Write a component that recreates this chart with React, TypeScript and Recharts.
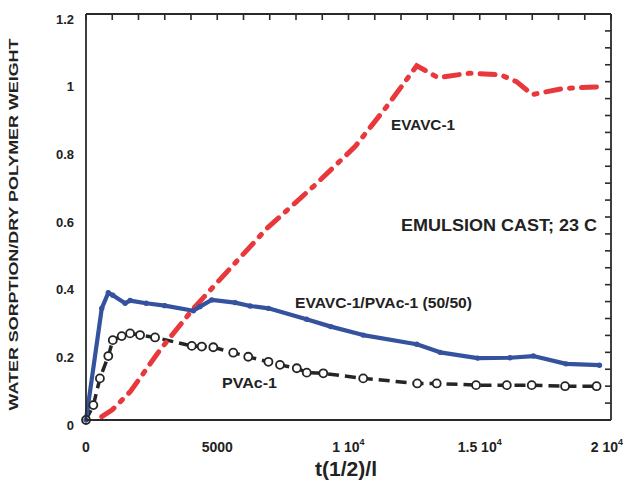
import React from "react";
import { LineChart, Line, XAxis, YAxis } from "recharts";

// ---- data ----
const evavcX = [600, 1000, 1700, 2800, 4100, 5100, 6900, 8660, 10250, 11450, 12600, 13000, 13400, 14600, 15800, 16400, 17000, 18200, 19600];
const evavcY = [0.01, 0.03, 0.085, 0.205, 0.33, 0.415, 0.567, 0.69, 0.808, 0.926, 1.047, 1.03, 1.012, 1.025, 1.02, 1.0, 0.962, 0.98, 0.985];

const blendX = [0, 600, 850, 1020, 1490, 1680, 2290, 3000, 4090, 4340, 4790, 5680, 6250, 6950, 8400, 9330, 10560, 12600, 13490, 14920, 16150, 17040, 18290, 19560];
const blendY = [0, 0.33, 0.376, 0.369, 0.345, 0.353, 0.345, 0.338, 0.323, 0.335, 0.355, 0.347, 0.337, 0.33, 0.298, 0.276, 0.251, 0.224, 0.2, 0.183, 0.184, 0.189, 0.166, 0.162];

const pvacX = [0, 280, 530, 850, 1020, 1360, 1680, 2060, 2630, 4030, 4410, 4850, 5610, 6180, 6950, 7390, 8030, 8410, 9040, 10560, 12620, 13360, 14860, 16030, 16980, 18250, 19450];
const pvacY = [0, 0.044, 0.123, 0.189, 0.236, 0.248, 0.256, 0.251, 0.244, 0.219, 0.217, 0.215, 0.199, 0.187, 0.172, 0.163, 0.153, 0.14, 0.138, 0.123, 0.108, 0.108, 0.103, 0.103, 0.103, 0.1, 0.1];

const xTicks = [0, 1000, 2000, 3000, 4000, 5000, 6000, 7000, 8000, 9000, 10000, 11000, 12000, 13000, 14000, 15000, 16000, 17000, 18000, 19000, 20000];
const xMajorTicks = [0, 5000, 10000, 15000, 20000];
const xMajorLabels = ["0", "5000", "1 10", "1.5 10", "2 10"];
const xMajorExps = ["", "", "4", "4", "4"];

const yTicks = [0, 0.05, 0.1, 0.15, 0.2, 0.25, 0.3, 0.35, 0.4, 0.45, 0.5, 0.55, 0.6, 0.65, 0.7, 0.75, 0.8, 0.85, 0.9, 0.95, 1, 1.05, 1.1, 1.15, 1.2];
const yMajorTicks = [0, 0.2, 0.4, 0.6, 0.8, 1, 1.2];
const yMajorLabels = ["0", "0.2", "0.4", "0.6", "0.8", "1", "1.2"];

const toPoints = (xs: number[], ys: number[]) => xs.map((x, i) => ({ x, y: ys[i] }));
const evavcData = toPoints(evavcX, evavcY);
const blendData = toPoints(blendX, blendY);
const pvacData = toPoints(pvacX, pvacY);

// ---- layout ----
const W = 631;
const H = 489;
const MARGIN = { top: 13, right: 19, left: 0, bottom: 39 };
const FONT = "'Liberation Sans', Arial, Helvetica, sans-serif";
const AXIS = "#2a2a2a";
const RED = "#e8383c";
const BLUE = "#35529e";
const BLACK = "#252525";
const TICK_W = 1.6;

const mkTickLine = (dir: string) => (props: any) => {
  const { x, y } = props;
  const d: any = { b: [0, -6], t: [0, 6], l: [6, 0], r: [-6, 0] }[dir];
  return <line x1={x} y1={y} x2={x + d[0]} y2={y + d[1]} stroke={AXIS} strokeWidth={TICK_W} />;
};
const BottomLine = mkTickLine("b");
const TopLine = mkTickLine("t");
const LeftLine = mkTickLine("l");
const RightLine = mkTickLine("r");

const BottomLabel = (props: any) => {
  const { x, y, payload } = props;
  const idx = xMajorTicks.indexOf(payload.value);
  if (idx < 0) return <g />;
  const dx = payload.value === 20000 ? -4 : 0;
  return (
    <text x={x + dx} y={y + 32} textAnchor="middle" fontFamily={FONT} fontWeight="bold" fontSize={14} fill="#222">
      <tspan>{xMajorLabels[idx]}</tspan>
      {xMajorExps[idx] ? <tspan dy={-7} fontSize={9}>{xMajorExps[idx]}</tspan> : null}
    </text>
  );
};

const LeftLabel = (props: any) => {
  const { x, y, payload } = props;
  const idx = yMajorTicks.findIndex((v) => Math.abs(v - payload.value) < 1e-6);
  if (idx < 0) return <g />;
  return (
    <text x={x - 12} y={y + 9.5} textAnchor="end" fontFamily={FONT} fontWeight="bold" fontSize={13} fill="#222">
      {yMajorLabels[idx]}
    </text>
  );
};

const txt = { fontFamily: FONT, fontWeight: "bold" as const, fill: "#222" };
const axisLineStyle = { stroke: AXIS, strokeWidth: 1.8 };

// mode "labels": axes paint only tick labels; mode "frame": axes paint frame + tick marks
function axes(mode: "labels" | "frame") {
  const f = mode === "frame";
  return [
    <XAxis key="xb" xAxisId="b" type="number" dataKey="x" domain={[0, 20000]} ticks={xTicks} interval={0} height={30} tickSize={0} tickMargin={0} axisLine={f ? axisLineStyle : false} tickLine={false} tick={f ? <BottomLine /> : <BottomLabel />} />,
    <XAxis key="xt" xAxisId="t" orientation="top" type="number" dataKey="x" domain={[0, 20000]} ticks={xTicks} interval={0} height={1} tickSize={0} tickMargin={0} axisLine={f ? axisLineStyle : false} tickLine={false} tick={f ? <TopLine /> : false} />,
    <YAxis key="yl" yAxisId="l" type="number" domain={[0, 1.2]} ticks={yTicks} interval={0} width={86} tickSize={0} tickMargin={0} axisLine={f ? axisLineStyle : false} tickLine={false} tick={f ? <LeftLine /> : <LeftLabel />} />,
    <YAxis key="yr" yAxisId="r" orientation="right" type="number" domain={[0, 1.2]} ticks={yTicks} interval={0} width={1} tickSize={0} tickMargin={0} axisLine={f ? axisLineStyle : false} tickLine={false} tick={f ? <RightLine /> : false} />,
  ];
}

export default function App() {
  return (
    <div style={{ position: "relative", width: W, height: H, margin: -8 }}>
      {/* data layer with tick labels */}
      <div style={{ position: "absolute", left: 0, top: 0 }}>
        <LineChart width={W} height={H} margin={MARGIN}>
          {axes("labels")}
          <Line xAxisId="t" yAxisId="r" data={pvacData} dataKey="y" stroke="#ffffff" strokeOpacity={0} dot={false} activeDot={false} isAnimationActive={false} />
          <Line
            xAxisId="b"
            yAxisId="l"
            data={pvacData}
            dataKey="y"
            type="linear"
            stroke={BLACK}
            strokeWidth={3.5}
            strokeDasharray="11 6"
            dot={{ r: 4, fill: "#ffffff", stroke: BLACK, strokeWidth: 1.8, strokeDasharray: "0" }}
            activeDot={false}
            isAnimationActive={false}
          />
          <Line
            xAxisId="b"
            yAxisId="l"
            data={evavcData}
            dataKey="y"
            type="linear"
            stroke={RED}
            strokeWidth={5}
            strokeLinecap="round"
            strokeDasharray="15 9 3 9"
            dot={false}
            activeDot={false}
            isAnimationActive={false}
          />
          <Line
            xAxisId="b"
            yAxisId="l"
            data={blendData}
            dataKey="y"
            type="linear"
            stroke={BLUE}
            strokeWidth={4.2}
            strokeLinejoin="round"
            dot={{ r: 2.7, fill: BLUE, stroke: "none" }}
            activeDot={false}
            isAnimationActive={false}
          />
        </LineChart>
      </div>
      {/* annotation layer */}
      <svg
        width={W}
        height={H}
        style={{ position: "absolute", left: 0, top: 0, pointerEvents: "none" }}
      >
        <text
          {...txt}
          fontSize={13}
          textAnchor="middle"
          transform="translate(17.5,224.5) rotate(-90)"
          textLength={372}
          lengthAdjust="spacingAndGlyphs"
        >
          WATER SORPTION/DRY POLYMER WEIGHT
        </text>
        <text {...txt} fontSize={20} x={315} y={476} textLength={62} lengthAdjust="spacingAndGlyphs">
          t(1/2)/l
        </text>
        <text {...txt} fontSize={15} x={391} y={130} textLength={64} lengthAdjust="spacingAndGlyphs">
          EVAVC-1
        </text>
        <text {...txt} fontSize={17} x={401} y={231} textLength={196} lengthAdjust="spacingAndGlyphs">
          EMULSION CAST; 23 C
        </text>
        <text {...txt} fontSize={15} x={295} y={308} textLength={177} lengthAdjust="spacingAndGlyphs">
          EVAVC-1/PVAc-1 (50/50)
        </text>
        <text {...txt} fontSize={15} x={222} y={388} textLength={55} lengthAdjust="spacingAndGlyphs">
          PVAc-1
        </text>
      </svg>
      {/* frame & tick-mark layer */}
      <div style={{ position: "absolute", left: 0, top: 0, pointerEvents: "none" }}>
        <LineChart width={W} height={H} margin={MARGIN}>
          {axes("frame")}
          <Line xAxisId="t" yAxisId="r" data={pvacData} dataKey="y" stroke="#ffffff" strokeOpacity={0} dot={false} activeDot={false} isAnimationActive={false} />
        </LineChart>
      </div>
    </div>
  );
}
